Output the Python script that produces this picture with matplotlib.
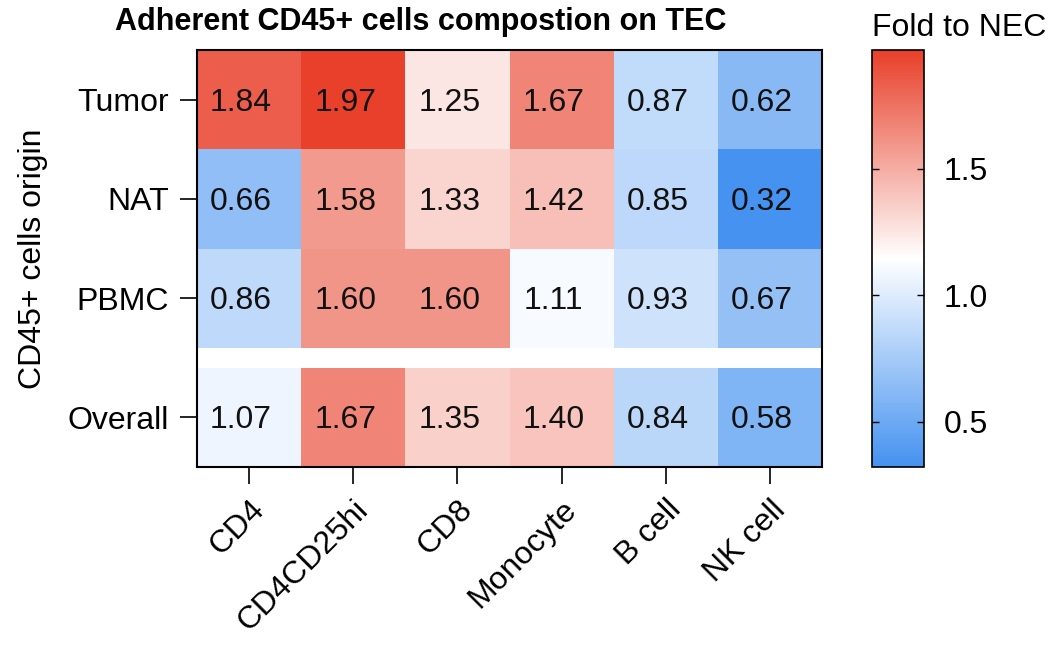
import numpy as np
import matplotlib
matplotlib.use("Agg")
import matplotlib.pyplot as plt
import matplotlib.transforms as mtransforms
from matplotlib.colors import LinearSegmentedColormap, Normalize

plt.rcParams['font.family'] = ['Liberation Sans', 'DejaVu Sans']

# data
cell_types = ["CD4", "CD4CD25hi", "CD8", "Monocyte", "B cell", "NK cell"]
origins = ["Tumor", "NAT", "PBMC", "Overall"]
tumor = [1.84, 1.97, 1.25, 1.67, 0.87, 0.62]
nat = [0.66, 1.58, 1.33, 1.42, 0.85, 0.32]
pbmc = [0.86, 1.60, 1.60, 1.11, 0.93, 0.67]
overall = [1.07, 1.67, 1.35, 1.40, 0.84, 0.58]
cbar_ticks = [0.5, 1.0, 1.5]

# layout: three rows, a small gap, then the overall row
gap = 0.2
y_edges = np.array([0, 1, 2, 3, 3 + gap, 4 + gap])
x_edges = np.arange(len(cell_types) + 1)

rows = [tumor, nat, pbmc, [np.nan] * len(cell_types), overall]
grid = np.ma.masked_invalid(np.array(rows, dtype=float))
vals = np.array([tumor, nat, pbmc, overall])

cmap = LinearSegmentedColormap.from_list("bwr_fold", ["#4592F0", "#FFFFFF", "#E8402A"])
norm = Normalize(vmin=vals.min(), vmax=vals.max())

fig = plt.figure(figsize=(10.58, 6.52), dpi=100)
ax = fig.add_axes([0.1862, 0.2837, 0.5908, 0.6396])
cax = fig.add_axes([0.8242, 0.2837, 0.0491, 0.6396])

mesh = ax.pcolormesh(x_edges, y_edges, grid, cmap=cmap, norm=norm)
ax.set_xlim(0, len(cell_types))
ax.set_ylim(y_edges[-1], 0)

# the cell labels sit a little left of and below the cell centre
shift = mtransforms.ScaledTranslation(-8 / 100, -3 / 100, fig.dpi_scale_trans)
row_centers = [0.5, 1.5, 2.5, 3.5 + gap]
for i, yc in enumerate(row_centers):
    for j in range(len(cell_types)):
        ax.text(j + 0.5, yc, f"{vals[i, j]:.2f}", ha="center", va="center",
                fontsize=23, color="#111111", transform=ax.transData + shift)

ax.set_xticks(np.arange(len(cell_types)) + 0.5)
ax.set_xticklabels(cell_types, rotation=45, ha="right", rotation_mode="anchor", fontsize=23)
ax.set_yticks(row_centers)
ax.set_yticklabels(origins, fontsize=23)
ax.tick_params(axis="both", length=12, width=1.2, pad=8)
ax.set_ylabel("CD45+ cells origin", fontsize=23, labelpad=14)
for sp in ax.spines.values():
    sp.set_linewidth(1.5)

fig.text(0.398, 0.954, "Adherent CD45+ cells compostion on TEC", ha="center",
         va="baseline", fontsize=22, fontweight="bold")

cb = fig.colorbar(mesh, cax=cax, ticks=cbar_ticks)
cb.ax.set_yticklabels([f"{t:.1f}" for t in cbar_ticks], fontsize=23)
cb.ax.tick_params(direction="in", left=True, right=True, length=5, width=1, pad=14)
cb.outline.set_linewidth(1.2)
cax.set_title("Fold to NEC", fontsize=23, pad=10, loc="left")

fig.savefig("out.png", dpi=100)
